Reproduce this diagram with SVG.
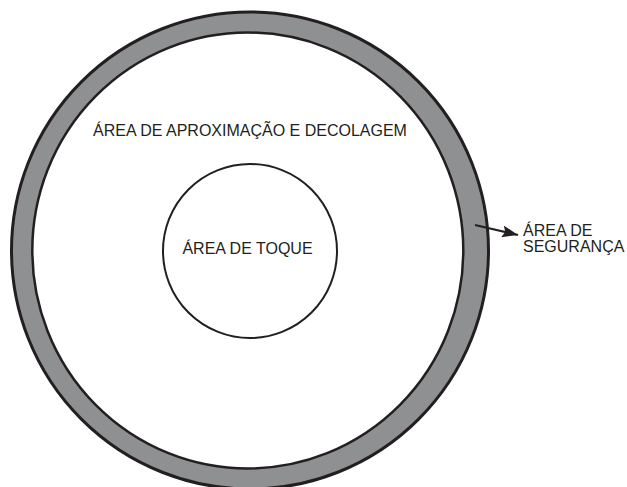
<svg xmlns="http://www.w3.org/2000/svg" width="627" height="487" viewBox="0 0 627 487">
<style>
  .lbl { font-family: "Liberation Sans", Arial, sans-serif; font-size: 16px; fill: #231f20; }
  .ln { stroke: #231f20; fill: none; }
</style>
<defs>
  <marker id="ah" viewBox="0 0 16 12" refX="16" refY="6" markerWidth="16" markerHeight="12" markerUnits="userSpaceOnUse" orient="auto">
    <path d="M0,0 L16,6 L0,12 L3,6 Z" fill="#231f20"/>
  </marker>
</defs>
<rect width="627" height="487" fill="#ffffff"/>
<g id="seguranca">
  <circle cx="250" cy="250.5" r="238.5" fill="#8f9092" stroke="#231f20" stroke-width="3"/>
</g>
<g id="aproximacao">
  <ellipse cx="247.8" cy="250.5" rx="215.5" ry="218" fill="#ffffff" stroke="#231f20" stroke-width="2.5"/>
  <text class="lbl" x="250" y="136" text-anchor="middle">ÁREA DE APROXIMAÇÃO E DECOLAGEM</text>
</g>
<g id="toque">
  <circle cx="250" cy="251" r="87" fill="#ffffff" stroke="#231f20" stroke-width="2"/>
  <text class="lbl" x="247.5" y="254" text-anchor="middle">ÁREA DE TOQUE</text>
</g>
<g id="label-seguranca">
  <text class="lbl" x="523" y="236">ÁREA DE</text>
  <text class="lbl" x="523" y="252">SEGURANÇA</text>
</g>
<g id="connectors">
  <line class="ln" x1="475" y1="225" x2="518" y2="235" stroke-width="2" marker-end="url(#ah)"/>
</g>
</svg>
